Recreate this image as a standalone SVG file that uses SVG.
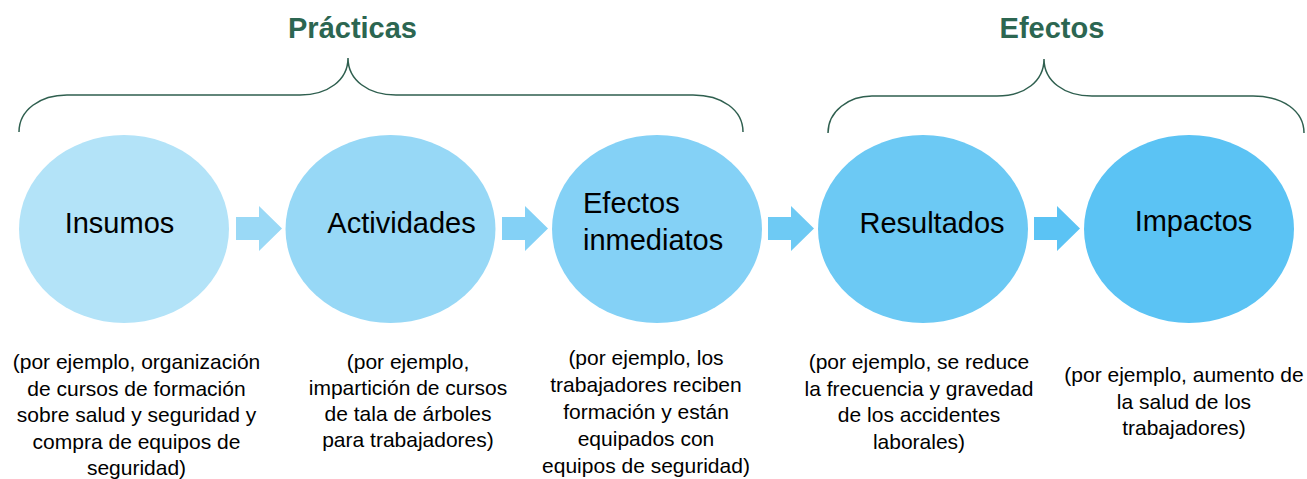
<svg xmlns="http://www.w3.org/2000/svg" width="1307" height="479" viewBox="0 0 1307 479">
<style>
.title{font-family:"Liberation Sans",Arial,sans-serif;font-weight:bold;font-size:29px;fill:#2C6651;text-anchor:middle}
.lbl{font-family:"Liberation Sans",Arial,sans-serif;font-size:29px;fill:#000}
.note{font-family:"Liberation Sans",Arial,sans-serif;font-size:21px;fill:#000;text-anchor:middle}
.brace{fill:none;stroke:#2F5F4F;stroke-width:1.5}
</style>
<rect width="1307" height="479" fill="#fff"/>
<g id="titles">
<text class="title" x="352.5" y="38">Prácticas</text>
<text class="title" x="1052" y="38">Efectos</text>
</g>
<g id="braces">
<path class="brace" d="M19,132 C19,110 40,95 67,95 L300,95 C328,95 348,80 348,58 C348,80 368,95 396,95 L693,95 C722,95 743,110 743,132"/>
<path class="brace" d="M828,133 C828,111 849,96 872,96 L997,96 C1025,96 1044,81 1044,59 C1044,81 1064,96 1092,96 L1253,96 C1283,96 1304,111 1304,133"/>
</g>
<g id="connectors">
<path fill="#9AD9F6" d="M236,217 H259 V206 L282,228.5 L259,251 V240 H236 Z"/>
<path fill="#84D1F6" d="M502,217 H525 V206 L548,228.5 L525,251 V240 H502 Z"/>
<path fill="#6ECAF4" d="M768,217 H791 V206 L814,228.5 L791,251 V240 H768 Z"/>
<path fill="#5BC3F4" d="M1034,217 H1057 V206 L1080,228.5 L1057,251 V240 H1034 Z"/>
</g>
<g id="node-insumos">
<ellipse cx="124" cy="229" rx="105" ry="94" fill="#B3E3F8"/>
<text class="lbl" x="119.5" y="233" text-anchor="middle">Insumos</text>
<text class="note" x="136.5" y="369">(por ejemplo, organización<tspan x="136.5" dy="26.5">de cursos de formación</tspan><tspan x="136.5" dy="26.5">sobre salud y seguridad y</tspan><tspan x="136.5" dy="26.5">compra de equipos de</tspan><tspan x="136.5" dy="26.5">seguridad)</tspan></text>
</g>
<g id="node-actividades">
<ellipse cx="390.5" cy="229" rx="105" ry="94" fill="#97D8F6"/>
<text class="lbl" x="401.5" y="233" text-anchor="middle">Actividades</text>
<text class="note" x="408" y="369">(por ejemplo,<tspan x="408" dy="26">impartición de cursos</tspan><tspan x="408" dy="26">de tala de árboles</tspan><tspan x="408" dy="26">para trabajadores)</tspan></text>
</g>
<g id="node-efectos-inmediatos">
<ellipse cx="657" cy="229" rx="105" ry="94" fill="#84D1F6"/>
<text class="lbl" x="583" y="213">Efectos<tspan x="583" dy="37">inmediatos</tspan></text>
<text class="note" x="646" y="365">(por ejemplo, los<tspan x="646" dy="27">trabajadores reciben</tspan><tspan x="646" dy="27">formación y están</tspan><tspan x="646" dy="27">equipados con</tspan><tspan x="646" dy="27">equipos de seguridad)</tspan></text>
</g>
<g id="node-resultados">
<ellipse cx="923" cy="229" rx="105" ry="94" fill="#6CC9F4"/>
<text class="lbl" x="932" y="233" text-anchor="middle">Resultados</text>
<text class="note" x="919" y="369">(por ejemplo, se reduce<tspan x="919" dy="26.5">la frecuencia y gravedad</tspan><tspan x="919" dy="26.5">de los accidentes</tspan><tspan x="919" dy="26.5">laborales)</tspan></text>
</g>
<g id="node-impactos">
<ellipse cx="1189" cy="229" rx="105" ry="94" fill="#5BC3F4"/>
<text class="lbl" x="1193.5" y="231" text-anchor="middle">Impactos</text>
<text class="note" x="1184" y="382">(por ejemplo, aumento de<tspan x="1184" dy="26.5">la salud de los</tspan><tspan x="1184" dy="26.5">trabajadores)</tspan></text>
</g>
</svg>
